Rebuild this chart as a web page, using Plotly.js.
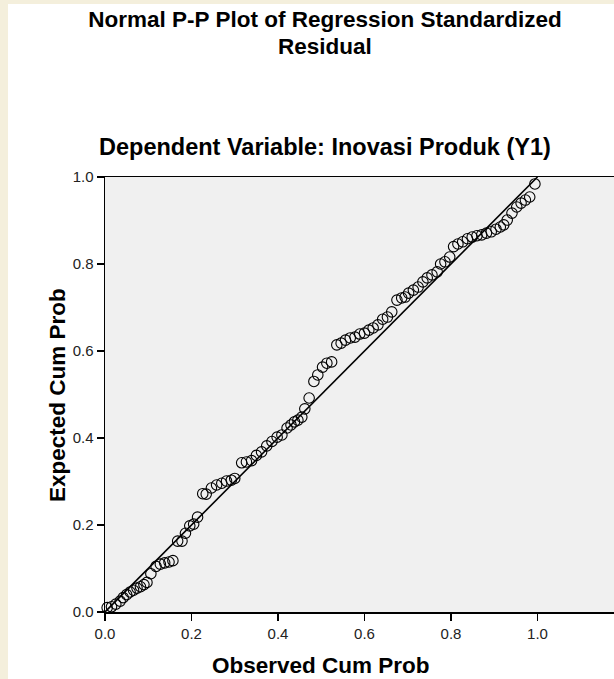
<!DOCTYPE html>
<html>
<head>
<meta charset="utf-8">
<script src="https://cdn.plot.ly/plotly-3.0.1.min.js"></script>
<style>html,body{margin:0;padding:0;background:#fff;}#chart{width:614px;height:679px;}</style>
</head>
<body>
<div id="chart"></div>
<script>
// Observed cumulative probability (x) and expected cumulative probability (y)
const observedCumProb = [
  0.005,0.015,0.025,0.035,0.042,0.050,0.058,0.066,0.074,0.082,
  0.090,0.097,0.106,0.118,0.128,0.138,0.148,0.157,0.168,0.178,
  0.186,0.196,0.205,0.214,0.226,0.234,0.246,0.258,0.270,0.281,
  0.292,0.300,0.316,0.327,0.339,0.350,0.362,0.374,0.386,0.398,
  0.409,0.421,0.430,0.438,0.446,0.455,0.462,0.472,0.483,0.492,
  0.503,0.513,0.524,0.536,0.546,0.556,0.567,0.578,0.589,0.600,
  0.610,0.620,0.631,0.642,0.653,0.663,0.675,0.686,0.694,0.702,
  0.713,0.724,0.735,0.745,0.756,0.768,0.776,0.786,0.797,0.806,
  0.816,0.827,0.838,0.849,0.860,0.871,0.882,0.893,0.904,0.914,
  0.922,0.930,0.941,0.952,0.962,0.972,0.982,0.994
];
const expectedCumProb = [
  0.010,0.012,0.018,0.025,0.033,0.040,0.046,0.050,0.055,0.058,
  0.063,0.068,0.088,0.105,0.110,0.113,0.115,0.118,0.163,0.163,
  0.181,0.198,0.202,0.218,0.272,0.271,0.285,0.292,0.296,0.301,
  0.303,0.307,0.343,0.345,0.348,0.360,0.368,0.382,0.392,0.402,
  0.407,0.423,0.430,0.437,0.441,0.448,0.467,0.492,0.530,0.545,
  0.563,0.572,0.575,0.614,0.618,0.625,0.630,0.632,0.639,0.641,
  0.648,0.653,0.660,0.673,0.678,0.690,0.717,0.722,0.724,0.733,
  0.740,0.747,0.759,0.768,0.775,0.782,0.800,0.805,0.816,0.840,
  0.846,0.851,0.858,0.862,0.865,0.867,0.871,0.874,0.880,0.885,
  0.890,0.901,0.917,0.931,0.940,0.947,0.954,0.984
];
// Reference diagonal
const lineX = [0, 1];
const lineY = [0, 1];
const tickVals = [0, 0.2, 0.4, 0.6, 0.8, 1.0];
const tickText = ["0.0", "0.2", "0.4", "0.6", "0.8", "1.0"];

const mainTitleLine1 = "Normal P-P Plot of Regression Standardized";
const mainTitleLine2 = "Residual";
const subTitle = "Dependent Variable: Inovasi Produk (Y1)";
const xTitle = "Observed Cum Prob";
const yTitle = "Expected Cum Prob";

const W = 614, H = 679;
const L = 105, R = 0, T = 177, B = 67;
const plotW = W - L - R;
const plotH = H - T - B;
const xUnit = 432.5; // px per 1.0
const xMax = plotW / xUnit;
const px = v => (v - L) / plotW;          // page x -> paper x
const py = v => (H - B - v) / plotH;      // page y -> paper y

const traces = [
  {
    x: lineX, y: lineY, mode: 'lines', type: 'scatter',
    line: {color: '#000', width: 1.6}, hoverinfo: 'skip', showlegend: false
  },
  {
    x: observedCumProb, y: expectedCumProb, mode: 'markers', type: 'scatter',
    cliponaxis: false,
    marker: {symbol: 'circle-open', size: 10.5, color: '#000', line: {width: 1.1, color: '#000'}},
    showlegend: false
  }
];

const font = "Arial, 'Liberation Sans', sans-serif";
const layout = {
  width: W, height: H,
  margin: {l: L, r: R, t: T, b: B, pad: 0},
  paper_bgcolor: '#ffffff',
  plot_bgcolor: '#f0f0f0',
  showlegend: false,
  font: {family: font, color: '#000'},
  title: {
    text: mainTitleLine1,
    font: {family: font, size: 22.5, color: '#000', weight: 'bold'},
    x: 325 / W, xref: 'container', xanchor: 'center',
    y: 1 - 19 / H, yref: 'container', yanchor: 'middle'
  },
  xaxis: {
    range: [0, xMax], tickvals: tickVals, ticktext: tickText,
    ticks: 'outside', ticklen: 7, tickwidth: 1.5, tickcolor: '#000',
    showline: true, linecolor: '#000', linewidth: 1.5, mirror: true,
    showgrid: false, zeroline: false,
    tickfont: {family: font, size: 15, color: '#222'},
    fixedrange: true
  },
  yaxis: {
    range: [0, 1], tickvals: tickVals, ticktext: tickText,
    ticks: 'outside', ticklen: 7, tickwidth: 1.5, tickcolor: '#000',
    showline: true, linecolor: '#000', linewidth: 1.5,
    showgrid: false, zeroline: false,
    tickfont: {family: font, size: 15, color: '#222'},
    fixedrange: true
  },
  shapes: [
    {type: 'rect', xref: 'paper', yref: 'paper', layer: 'below',
     x0: px(0), x1: px(8), y0: py(H), y1: py(0),
     fillcolor: '#f4efdc', line: {width: 0}},
    {type: 'rect', xref: 'paper', yref: 'paper', layer: 'below',
     x0: px(0), x1: px(W), y0: py(4), y1: py(0),
     fillcolor: '#f4efdc', line: {width: 0}}
  ],
  annotations: [
    {text: '<b>' + mainTitleLine2 + '</b>', xref: 'paper', yref: 'paper',
     x: px(325), y: py(46), xanchor: 'center', yanchor: 'middle',
     showarrow: false, font: {family: font, size: 22.5, color: '#000'}},
    {text: '<b>' + subTitle + '</b>', xref: 'paper', yref: 'paper',
     x: px(325), y: py(147), xanchor: 'center', yanchor: 'middle',
     showarrow: false, font: {family: font, size: 23.5, color: '#000'}},
    {text: '<b>' + xTitle + '</b>', xref: 'paper', yref: 'paper',
     x: px(321), y: py(665), xanchor: 'center', yanchor: 'middle',
     showarrow: false, font: {family: font, size: 22.5, color: '#000'}},
    {text: '<b>' + yTitle + '</b>', xref: 'paper', yref: 'paper', textangle: -90,
     x: px(57), y: py(395), xanchor: 'center', yanchor: 'middle',
     showarrow: false, font: {family: font, size: 22.5, color: '#000'}}
  ]
};

Plotly.newPlot('chart', traces, layout, {displayModeBar: false, staticPlot: true});
</script>
</body>
</html>
